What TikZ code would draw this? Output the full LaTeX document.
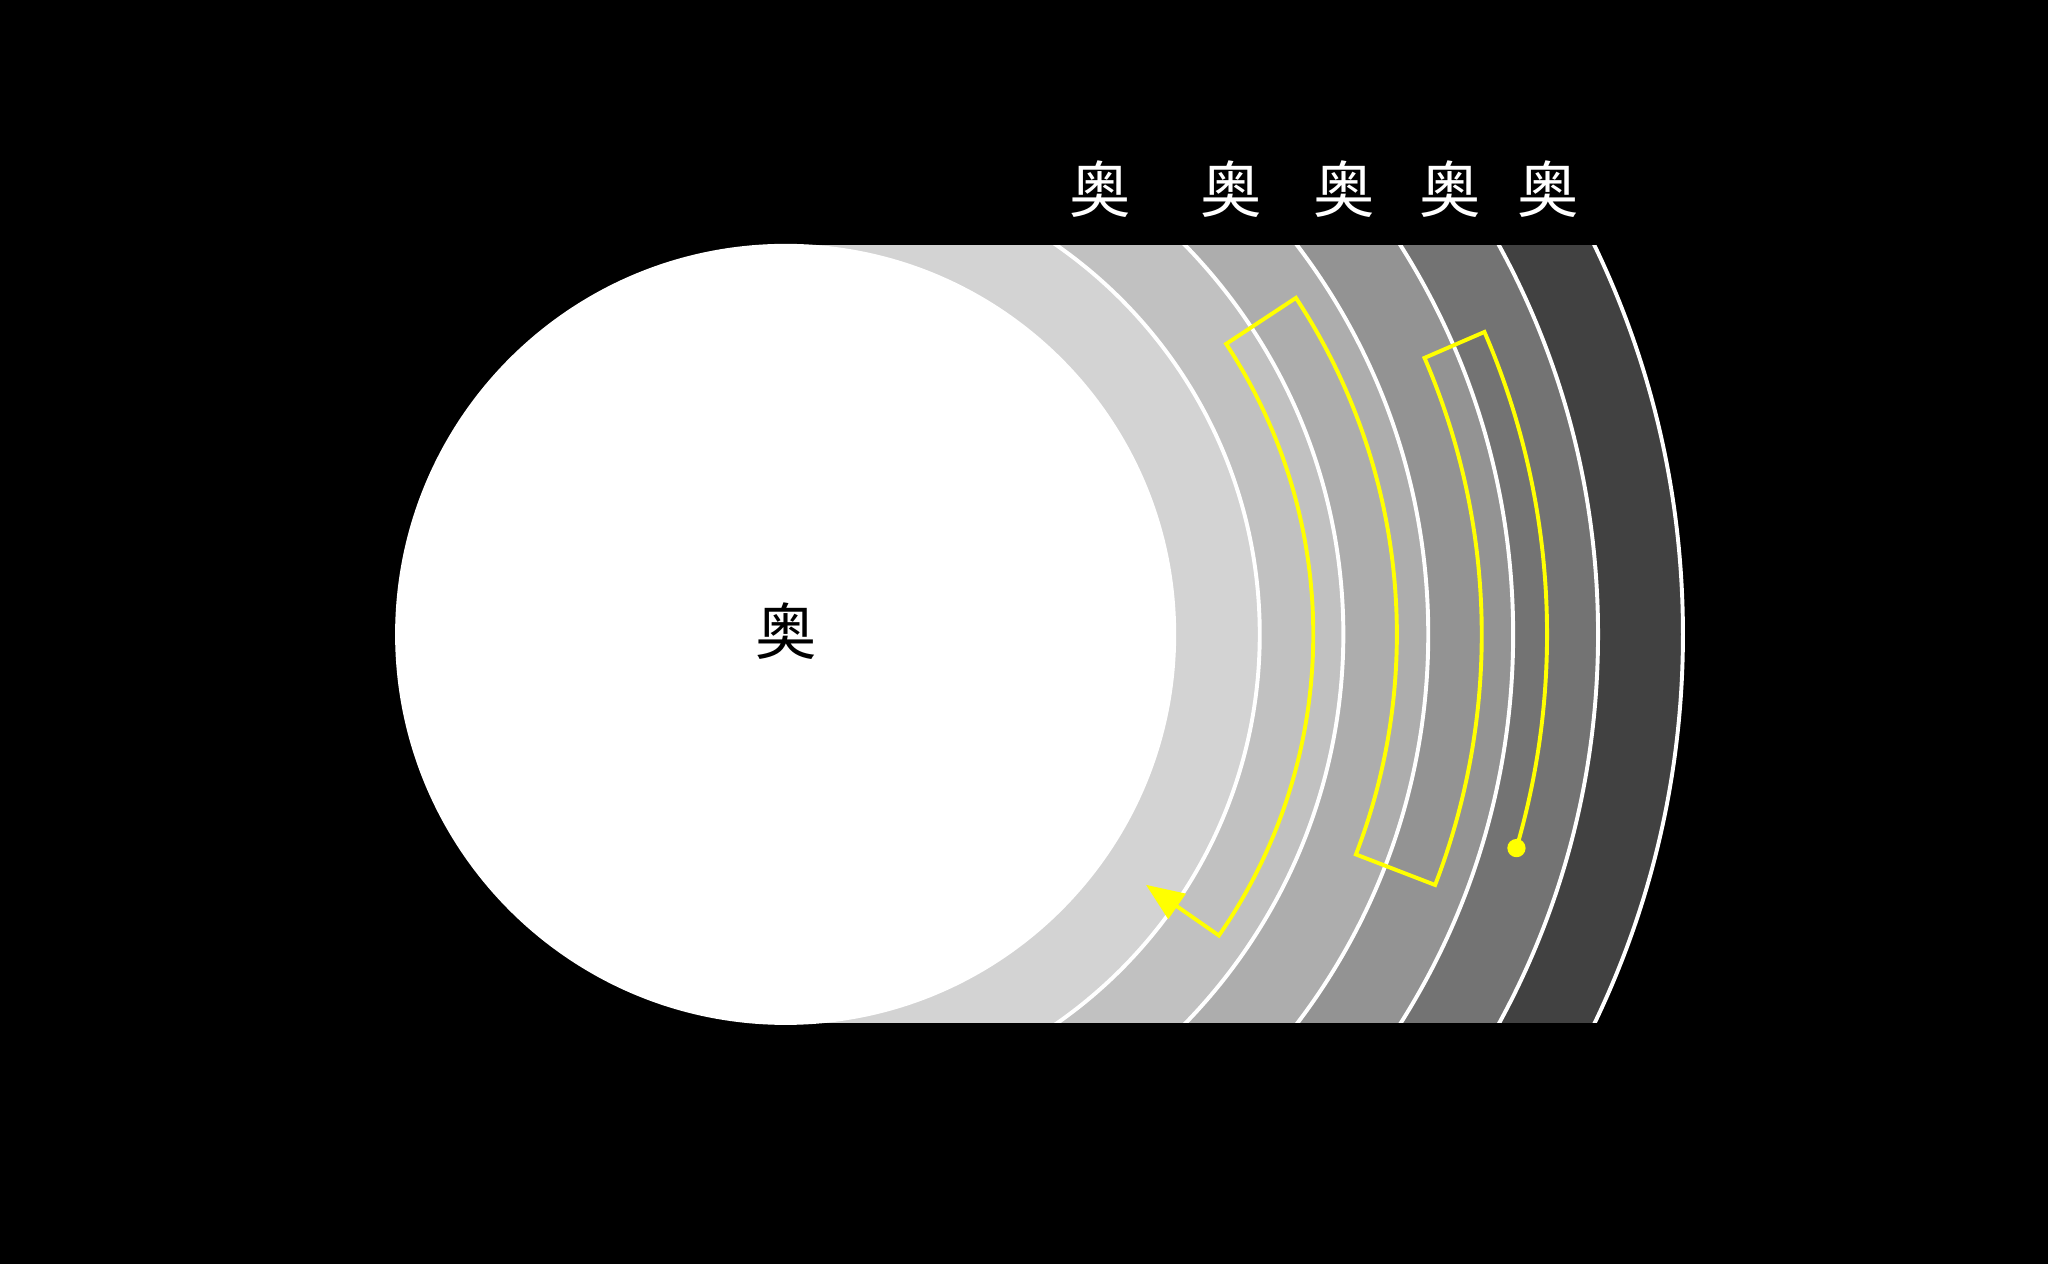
\documentclass[tikz,border=0pt]{standalone}
\usepackage{fontspec}
\newfontfamily\cjk{Noto Sans CJK SC}
\usetikzlibrary{arrows.meta}
\definecolor{ringA}{HTML}{D3D3D3}
\definecolor{ringB}{HTML}{C1C1C1}
\definecolor{ringC}{HTML}{ADADAD}
\definecolor{ringD}{HTML}{939393}
\definecolor{ringE}{HTML}{737373}
\definecolor{ringF}{HTML}{414141}
\definecolor{yel}{HTML}{FFFF00}
\begin{document}
\begin{tikzpicture}[x=1pt,y=1pt,
  lbl/.style={inner sep=0pt,font=\cjk\fontsize{47}{47}\selectfont},
  toplbl/.style={lbl,text=white},
  ringline/.style={draw=white,line width=3pt},
  spiral/.style={draw=yel,line width=3pt,line join=miter}]
\fill[black] (0,0) rectangle (1568,967.7);
\useasboundingbox (0,0) rectangle (1568,967.7);
\begin{scope}[shift={(601.5,482)}]
  \begin{scope}
    \clip (0,-297.5) rectangle (800,297.5);
    \fill[ringF] (0,0) circle (687);
    \fill[ringE] (0,0) circle (622);
    \fill[ringD] (0,0) circle (557);
    \fill[ringC] (0,0) circle (492);
    \fill[ringB] (0,0) circle (427);
    \fill[ringA] (0,0) circle (363);
    \foreach \r in {363,427,492,557,622,687}
      \draw[ringline] (0,0) circle (\r);
  \end{scope}
  \fill[white] (0,0) circle (299);
  \coordinate (start) at (-16.3:583);
  \coordinate (tip) at (-34.8:336);
  \draw[spiral,-{Triangle[length=29pt,width=23pt]}]
    (start) arc[start angle=-16.3,end angle=23.4,radius=583]
    -- (23.4:533) arc[start angle=23.4,end angle=-21.1,radius=533]
    -- (-21.1:468) arc[start angle=-21.1,end angle=33.4,radius=468]
    -- (33.4:404) arc[start angle=33.4,end angle=-34.8,radius=404]
    -- (tip);
  \fill[yel] (start) circle (7);
  \node[lbl,text=black] (core) at (0.5,2.7) {奥};
\end{scope}
\node[toplbl] (l1) at (842,822.7) {奥};
\node[toplbl] (l2) at (943,822.7) {奥};
\node[toplbl] (l3) at (1029,822.7) {奥};
\node[toplbl] (l4) at (1110,822.7) {奥};
\node[toplbl] (l5) at (1185,822.7) {奥};
\end{tikzpicture}
\end{document}
